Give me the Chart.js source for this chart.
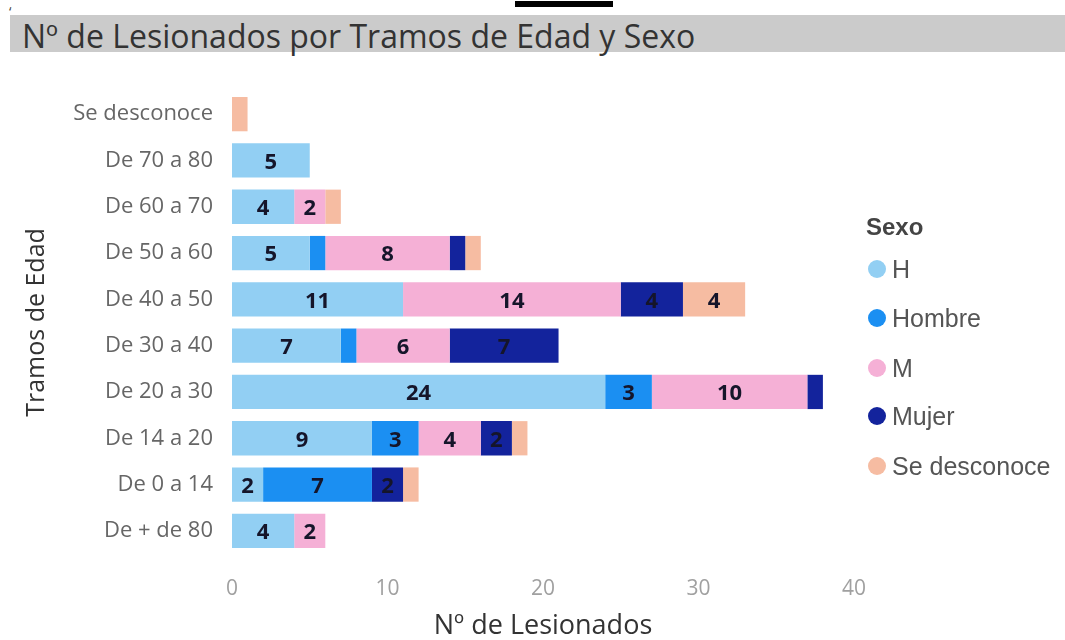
<!DOCTYPE html>
<html><head><meta charset="utf-8">
<script src="https://cdn.jsdelivr.net/npm/chart.js@4"></script>
<style>
html,body{margin:0;padding:0;background:#fff;width:1065px;height:640px;overflow:hidden;font-family:"Open Sans",sans-serif}
#wrap{position:relative;width:1065px;height:640px}
#topbar{position:absolute;left:515px;top:1px;width:98px;height:6px;background:#000}
#band{position:absolute;left:10px;top:15px;width:1055px;height:37px;background:#cbcbcb}
#title{position:absolute;left:22px;top:16px;height:37px;line-height:39px;font-size:32px;color:#333;white-space:nowrap}
#tick{position:absolute;left:9px;top:2px;font-size:14px;color:#444}
#chartBox{position:absolute;left:0;top:0;width:1065px;height:640px}
#legend{position:absolute;left:866px;top:212px;font-family:"Liberation Sans",Arial,sans-serif}
#legend .hdr{font-weight:bold;font-size:24px;color:#444;height:30px;line-height:30px}
#legend .it{position:absolute;left:0;height:30px;line-height:30px;font-size:25px;color:#555;white-space:nowrap}
#legend .dot{display:inline-block;width:18px;height:18px;border-radius:50%;vertical-align:middle;margin-right:6px;position:relative;top:-2px}
</style></head>
<body><div id="wrap">
<div id="band"></div>
<div id="title">Nº de Lesionados por Tramos de Edad y Sexo</div>
<div id="topbar"></div>
<div id="tick">‘</div>
<div id="chartBox"><canvas id="c" width="1065" height="640"></canvas></div>
<div id="legend"></div>
</div>
<script>
const categories = ['Se desconoce','De 70 a 80','De 60 a 70','De 50 a 60','De 40 a 50','De 30 a 40','De 20 a 30','De 14 a 20','De 0 a 14','De + de 80'];
const seriesNames = ['H','Hombre','M','Mujer','Se desconoce'];
const valsH =           [0, 5, 4, 5, 11, 7, 24, 9, 2, 4];
const valsHombre =      [0, 0, 0, 1,  0, 1,  3, 3, 7, 0];
const valsM =           [0, 0, 2, 8, 14, 6, 10, 4, 0, 2];
const valsMujer =       [0, 0, 0, 1,  4, 7,  1, 2, 2, 0];
const valsSeDesconoce = [1, 0, 1, 1,  4, 0,  0, 1, 1, 0];
const xTicks = [0, 10, 20, 30, 40];
const colors = ['#92cff3','#1b8ff2','#f5b0d6','#13239c','#f6bca2'];
const seriesValues = [valsH, valsHombre, valsM, valsMujer, valsSeDesconoce];

// HTML legend
const lg = document.getElementById('legend');
lg.innerHTML = '<div class="hdr">Sexo</div>';
const legendY = [42, 91, 141, 189, 239];
seriesNames.forEach((n,i)=>{
  const d=document.createElement('div'); d.className='it'; d.style.top=legendY[i]+'px'; d.style.left='2px';
  d.innerHTML='<span class="dot" style="background:'+colors[i]+'"></span>'+n;
  lg.appendChild(d);
});

const valueLabels = {
  id:'valueLabels',
  afterDatasetsDraw(chart){
    const ctx=chart.ctx; ctx.save();
    ctx.font='bold 22px "Open Sans"'; ctx.fillStyle='#15152a'; ctx.textAlign='center'; ctx.textBaseline='middle';
    chart.data.datasets.forEach((ds,i)=>{
      const meta=chart.getDatasetMeta(i);
      meta.data.forEach((bar,j)=>{
        const v=ds.data[j]; if(!v||v<2) return;
        const p=bar.getProps(['x','base','y'],true);
        ctx.fillText(String(v),(p.x+p.base)/2,p.y+2);
      });
    });
    ctx.restore();
  }
};

new Chart(document.getElementById('c'),{
  type:'bar',
  data:{labels:categories,datasets:seriesNames.map((n,i)=>({label:n,data:seriesValues[i],backgroundColor:colors[i],borderWidth:0,categoryPercentage:1,barPercentage:0.74}))},
  options:{
    indexAxis:'y',responsive:false,animation:false,
    layout:{padding:{left:22,top:91,right:211,bottom:0}},
    plugins:{legend:{display:false},tooltip:{enabled:false}},
    scales:{
      x:{stacked:true,min:0,max:40,afterBuildTicks(s){s.ticks=xTicks.map(v=>({value:v}));},
         ticks:{color:'#a0a0a0',font:{family:'"Open Sans"',size:21},padding:14},
         grid:{display:false},border:{display:false},
         title:{display:true,text:'Nº de Lesionados',color:'#333',font:{family:'"Open Sans"',size:27,lineHeight:1},padding:0},
         afterFit(s){s.height=86;}},
      y:{stacked:true,
         ticks:{color:'#666',font:{family:'"Open Sans"',size:22},padding:11},
         grid:{display:false},border:{display:false},
         title:{display:true,text:'Tramos de Edad',color:'#333',font:{family:'"Open Sans"',size:25},padding:0},
         afterFit(s){s.width=210;}}
    }
  },
  plugins:[valueLabels]
});
</script>
</body></html>
